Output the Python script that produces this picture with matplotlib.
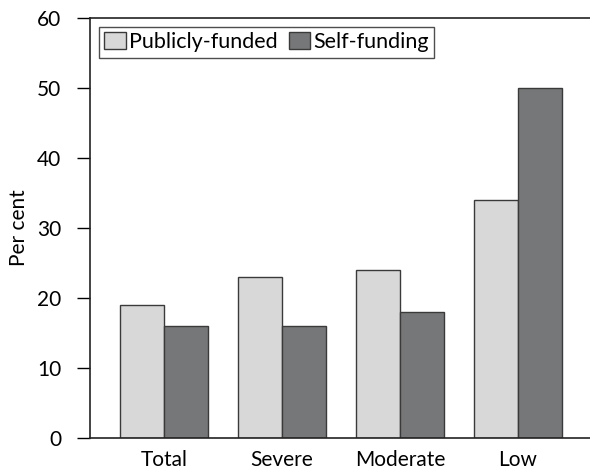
import matplotlib
matplotlib.use('Agg')
import matplotlib.pyplot as plt
import numpy as np

categories = ['Total', 'Severe', 'Moderate', 'Low']
publicly_funded = [19, 23, 24, 34]
self_funding = [16, 16, 18, 50]

plt.rcParams['font.family'] = ['Lato', 'DejaVu Sans']

fig = plt.figure(figsize=(5.9, 4.72), dpi=100)
ax = fig.add_axes([90 / 590, 1 - 438 / 472, 500 / 590, 420 / 472])

x = np.arange(len(categories))
w = 0.37
ax.bar(x - w / 2, publicly_funded, w, color='#d8d8d8', edgecolor='#3a3a3a',
       linewidth=1.0, label='Publicly-funded')
ax.bar(x + w / 2, self_funding, w, color='#767778', edgecolor='#3a3a3a',
       linewidth=1.0, label='Self-funding')

ax.set_ylim(0, 60)
ax.set_xlim(-0.627, 3.61)
ax.set_yticks(range(0, 61, 10))
ax.set_xticks(x)
ax.set_xticklabels(categories)
ax.tick_params(axis='y', length=9.5, width=1.0, labelsize=15, pad=11)
ax.tick_params(axis='x', length=0, labelsize=15, pad=9)
ax.set_ylabel('Per cent', fontsize=15, labelpad=6)

ax.spines['right'].set_visible(False)
for s in ['left', 'top', 'bottom']:
    ax.spines[s].set_linewidth(1.2)
    ax.spines[s].set_color('#222222')

leg = ax.legend(loc='upper left', ncol=2, fontsize=15.5, frameon=True, fancybox=False,
                edgecolor='#222222', handlelength=1.0, handleheight=0.8,
                handletextpad=0.15, columnspacing=0.5, borderpad=0.25,
                borderaxespad=0.0, bbox_to_anchor=(0.018, 0.979))
leg.get_frame().set_linewidth(1.0)

fig.savefig('out.png', dpi=100)
